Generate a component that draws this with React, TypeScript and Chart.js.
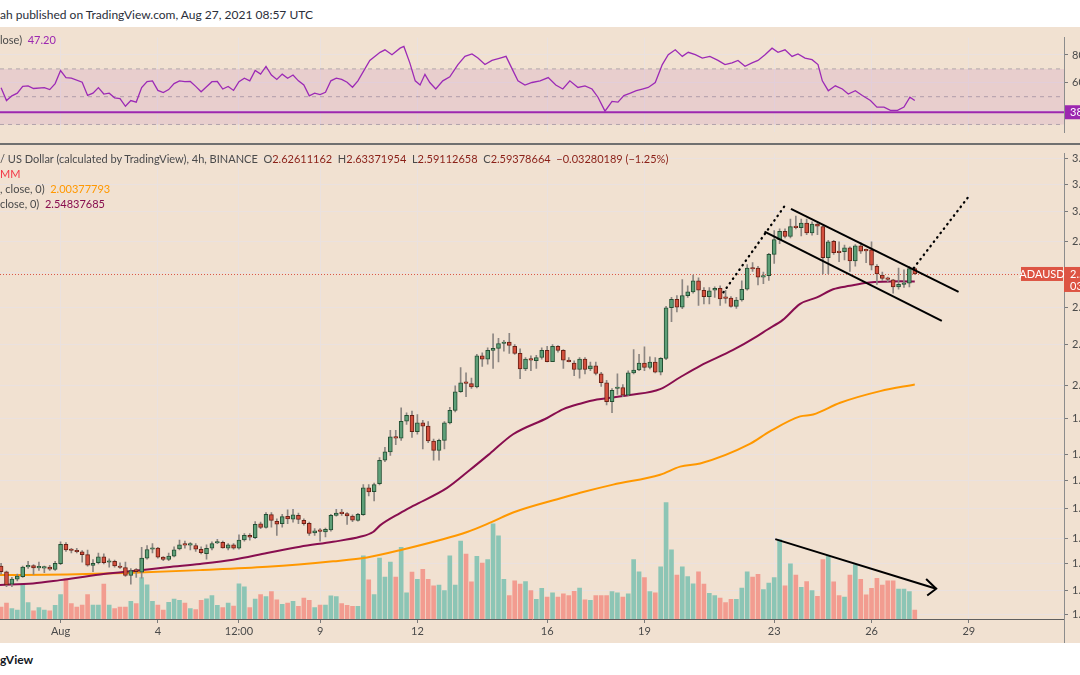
import React, { useEffect, useRef } from "react";
import { Chart, registerables } from "chart.js";
Chart.register(...registerables);

const FONT = "Lato, 'Noto Sans', sans-serif";
const BG = "#F1E1D1";
const GRID = "#EAE1DF";
const TEXT = "#4a4a4a";

// ---- time axis (index = 4h bars since Aug 1 00:00 UTC) ----
const FIRST_INDEX = -11;
const X_MIN = -11.2;
const X_MAX = 185.6;
const TIME_TICKS = [0, 18, 33, 48, 66, 90, 108, 132, 150, 168];
const TIME_LABELS = ["Aug", "4", "12:00", "9", "12", "16", "19", "23", "26", "29"];

// ---- price axis ----
const PRICE_MIN = 1.1589;
const PRICE_MAX = 3.4356;
const PRICE_TICKS = [3.4, 3.2, 3.0, 2.8, 2.6, 2.4, 2.2, 2.0, 1.85, 1.7, 1.6, 1.5, 1.4, 1.32, 1.24, 1.17];
const VOL_MAX = 47.6;

// ---- RSI axis ----
const RSI_MIN = 24.3;
const RSI_MAX = 92.5;
const RSI_TICKS = [80, 60, 40];
const RSI_LEVEL = 38.8;
const RSI_LAST = 47.2;

// ---- ADAUSD 4h candles ----
const opens = [
  1.311, 1.294, 1.257, 1.272, 1.279, 1.309, 1.313, 1.306, 1.305, 1.308,
  1.301, 1.319, 1.380, 1.362, 1.359, 1.356, 1.347, 1.313, 1.322, 1.340,
  1.323, 1.326, 1.311, 1.307, 1.283, 1.301, 1.293, 1.336, 1.364, 1.368,
  1.339, 1.332, 1.342, 1.365, 1.380, 1.377, 1.376, 1.364, 1.350, 1.367,
  1.384, 1.386, 1.367, 1.378, 1.367, 1.394, 1.409, 1.401, 1.447, 1.435,
  1.479, 1.456, 1.448, 1.473, 1.463, 1.476, 1.459, 1.449, 1.417, 1.424,
  1.420, 1.427, 1.476, 1.484, 1.482, 1.474, 1.459, 1.479, 1.574, 1.560,
  1.590, 1.679, 1.712, 1.773, 1.768, 1.839, 1.865, 1.795, 1.832, 1.818,
  1.756, 1.718, 1.759, 1.832, 1.886, 1.970, 2.012, 2.008, 1.992, 2.142,
  2.126, 2.170, 2.180, 2.205, 2.212, 2.191, 2.155, 2.078, 2.126, 2.118,
  2.134, 2.170, 2.114, 2.191, 2.170, 2.121, 2.107, 2.075, 2.126, 2.078,
  2.093, 2.054, 2.012, 1.925, 1.985, 1.989, 1.955, 2.059, 2.073, 2.107,
  2.085, 2.112, 2.062, 2.130, 2.397, 2.445, 2.401, 2.466, 2.488, 2.552,
  2.497, 2.460, 2.497, 2.509, 2.456, 2.452, 2.405, 2.441, 2.503, 2.630,
  2.630, 2.575, 2.584, 2.715, 2.810, 2.866, 2.831, 2.897, 2.890, 2.921,
  2.855, 2.915, 2.897, 2.695, 2.800, 2.732, 2.732, 2.757, 2.674, 2.770,
  2.745, 2.745, 2.641, 2.587, 2.567, 2.558, 2.517, 2.532, 2.538, 2.62611162,
];
const highs = [
  1.320, 1.296, 1.277, 1.287, 1.311, 1.326, 1.316, 1.324, 1.311, 1.314,
  1.326, 1.388, 1.385, 1.367, 1.367, 1.360, 1.361, 1.331, 1.352, 1.349,
  1.334, 1.330, 1.321, 1.324, 1.304, 1.304, 1.370, 1.376, 1.382, 1.370,
  1.341, 1.352, 1.372, 1.393, 1.390, 1.385, 1.382, 1.372, 1.378, 1.388,
  1.396, 1.390, 1.382, 1.382, 1.411, 1.415, 1.415, 1.455, 1.453, 1.486,
  1.486, 1.464, 1.480, 1.495, 1.497, 1.484, 1.464, 1.453, 1.431, 1.431,
  1.433, 1.480, 1.497, 1.497, 1.486, 1.478, 1.483, 1.586, 1.586, 1.592,
  1.689, 1.730, 1.800, 1.800, 1.897, 1.876, 1.883, 1.868, 1.843, 1.838,
  1.764, 1.764, 1.838, 1.900, 1.997, 2.085, 2.059, 2.034, 2.150, 2.158,
  2.183, 2.255, 2.232, 2.222, 2.258, 2.199, 2.178, 2.134, 2.142, 2.145,
  2.183, 2.191, 2.199, 2.194, 2.174, 2.134, 2.118, 2.134, 2.134, 2.112,
  2.112, 2.062, 2.023, 1.985, 2.054, 2.003, 2.069, 2.174, 2.150, 2.188,
  2.138, 2.134, 2.134, 2.405, 2.456, 2.466, 2.560, 2.523, 2.587, 2.571,
  2.513, 2.513, 2.517, 2.523, 2.497, 2.460, 2.456, 2.552, 2.652, 2.663,
  2.641, 2.605, 2.722, 2.870, 2.882, 2.882, 2.948, 2.970, 2.948, 2.948,
  2.930, 2.921, 2.904, 2.806, 2.806, 2.796, 2.775, 2.764, 2.778, 2.791,
  2.749, 2.796, 2.652, 2.605, 2.575, 2.561, 2.630, 2.619, 2.641, 2.63371954,
];
const lows = [
  1.287, 1.250, 1.250, 1.267, 1.277, 1.304, 1.286, 1.298, 1.291, 1.298,
  1.298, 1.316, 1.357, 1.352, 1.352, 1.323, 1.311, 1.294, 1.318, 1.318,
  1.308, 1.308, 1.304, 1.280, 1.257, 1.277, 1.275, 1.333, 1.352, 1.336,
  1.328, 1.328, 1.340, 1.362, 1.367, 1.362, 1.357, 1.349, 1.333, 1.362,
  1.382, 1.367, 1.362, 1.364, 1.364, 1.390, 1.393, 1.398, 1.431, 1.433,
  1.436, 1.409, 1.436, 1.448, 1.453, 1.448, 1.443, 1.409, 1.409, 1.390,
  1.404, 1.423, 1.473, 1.476, 1.445, 1.455, 1.456, 1.476, 1.545, 1.527,
  1.585, 1.673, 1.698, 1.741, 1.759, 1.825, 1.771, 1.784, 1.724, 1.749,
  1.679, 1.679, 1.724, 1.828, 1.880, 1.967, 1.948, 1.985, 1.988, 2.090,
  2.101, 2.080, 2.112, 2.166, 2.155, 2.150, 2.031, 2.069, 2.069, 2.080,
  2.126, 2.112, 2.113, 2.161, 2.080, 2.112, 2.046, 2.034, 2.054, 2.069,
  2.049, 1.995, 1.911, 1.876, 1.958, 1.948, 1.952, 2.054, 2.069, 2.069,
  2.078, 2.059, 2.049, 2.124, 2.320, 2.374, 2.392, 2.456, 2.480, 2.410,
  2.419, 2.419, 2.456, 2.410, 2.423, 2.401, 2.393, 2.434, 2.497, 2.609,
  2.528, 2.536, 2.555, 2.659, 2.784, 2.821, 2.821, 2.882, 2.834, 2.843,
  2.839, 2.843, 2.594, 2.594, 2.715, 2.670, 2.680, 2.609, 2.641, 2.722,
  2.663, 2.619, 2.532, 2.555, 2.548, 2.480, 2.503, 2.513, 2.517, 2.59112658,
];
const closes = [
  1.294, 1.255, 1.272, 1.281, 1.308, 1.312, 1.306, 1.308, 1.307, 1.302,
  1.320, 1.380, 1.362, 1.360, 1.356, 1.347, 1.314, 1.320, 1.340, 1.322,
  1.325, 1.312, 1.307, 1.283, 1.298, 1.294, 1.336, 1.363, 1.367, 1.339,
  1.332, 1.342, 1.362, 1.378, 1.377, 1.378, 1.364, 1.353, 1.367, 1.382,
  1.387, 1.368, 1.378, 1.367, 1.393, 1.409, 1.403, 1.446, 1.435, 1.480,
  1.459, 1.446, 1.472, 1.464, 1.478, 1.462, 1.448, 1.415, 1.424, 1.422,
  1.429, 1.476, 1.484, 1.482, 1.474, 1.460, 1.480, 1.574, 1.559, 1.586,
  1.679, 1.712, 1.773, 1.768, 1.839, 1.865, 1.795, 1.832, 1.818, 1.756,
  1.718, 1.759, 1.832, 1.886, 1.970, 2.012, 2.009, 1.992, 2.142, 2.126,
  2.170, 2.180, 2.205, 2.212, 2.195, 2.155, 2.078, 2.126, 2.121, 2.134,
  2.170, 2.114, 2.191, 2.170, 2.121, 2.113, 2.075, 2.126, 2.075, 2.093,
  2.056, 2.012, 1.925, 1.977, 1.989, 1.955, 2.059, 2.073, 2.107, 2.085,
  2.112, 2.062, 2.130, 2.397, 2.445, 2.401, 2.466, 2.488, 2.552, 2.497,
  2.460, 2.494, 2.509, 2.447, 2.450, 2.405, 2.441, 2.503, 2.630, 2.624,
  2.575, 2.584, 2.715, 2.810, 2.866, 2.831, 2.897, 2.890, 2.921, 2.855,
  2.915, 2.900, 2.695, 2.796, 2.726, 2.726, 2.757, 2.674, 2.770, 2.736,
  2.738, 2.647, 2.594, 2.567, 2.561, 2.517, 2.532, 2.541, 2.62658853, 2.59378664,
];
// volume (millions ADA, approx.)
const volumes = [
  1.23, 1.63, 1.07, 0.9, 3.57, 1.67, 0.83, 1.17, 0.9, 0.83, 1.4,
  2.5, 4.13, 1.57, 1.23, 1.43, 2.5, 1.43, 1.43, 3.57, 1.43,
  1.07, 1.23, 1.23, 1.8, 1.57, 4.23, 3.5, 1.8, 1.43, 0.9,
  1.7, 2.03, 1.9, 1.63, 1.07, 0.97, 1.9, 2.07, 2.4, 1.4,
  1.17, 1.63, 1.33, 3.6, 3.3, 1.17, 2.03, 2.5, 2.3, 2.8,
  1.97, 1.5, 1.63, 1.8, 1.3, 2.13, 1.9, 1.17, 1.43, 1.43,
  2.37, 2.3, 1.57, 1.4, 1.3, 1.3, 6.47, 4.0, 2.5,
  6.23, 4.3, 5.83, 4.3, 7.33, 2.67, 4.8, 4.07, 5.07, 4.07,
  3.4, 3.47, 2.9, 6.47, 3.47, 7.97, 6.63, 3.8, 6.4, 5.73,
  6.07, 9.73, 8.5, 4.07, 2.4, 3.9, 3.57, 3.83, 2.9, 2.0,
  3.13, 2.23, 2.67, 2.23, 2.57, 2.4, 2.83, 3.17, 1.97, 1.9,
  2.4, 2.4, 2.4, 2.8, 2.67, 2.23, 2.57, 6.07, 4.83, 4.23,
  2.8, 2.67, 5.33, 11.9, 7.07, 4.5, 5.33, 4.33, 3.6, 4.83,
  3.57, 2.63, 2.4, 2.13, 1.67, 2.0, 2.0, 3.17, 4.83, 4.3,
  4.57, 3.0, 3.67, 4.23, 8.13, 3.4, 5.63, 4.5, 3.23, 3.83,
  2.9, 2.33, 6.07, 6.4, 3.8, 2.4, 2.23, 4.5, 5.57, 4.07,
  2.47, 3.13, 4.17, 3.47, 3.9, 3.9, 3.07, 3.07, 2.8, 0.9,
];

// ---- moving averages ----
const ma50X = [-11.2, -5.1, -0.1, 7.3, 13.4, 19.7, 25.8, 31.9, 38.2, 44.3, 50.4, 55.4, 57.8, 59.1, 62.8, 65.2, 71.5, 75.7, 79.4, 83.7, 90, 93, 96.1, 99.2, 102.2, 105.3, 110.9, 114.6, 118.3, 124.4, 128.8, 130.7, 133.6, 136.8, 139.9, 142.9, 146.0, 149.2, 155.3, 158];
const ma50V = [1.255, 1.259, 1.269, 1.286, 1.296, 1.308, 1.318, 1.331, 1.352, 1.372, 1.388, 1.404, 1.420, 1.442, 1.484, 1.509, 1.574, 1.641, 1.705, 1.784, 1.853, 1.892, 1.916, 1.935, 1.944, 1.955, 1.982, 2.038, 2.093, 2.172, 2.242, 2.277, 2.330, 2.419, 2.456, 2.503, 2.523, 2.541, 2.550, 2.54837685];
const ma100X = [-11.2, 1.2, 13.4, 25.8, 38.2, 50.4, 56.7, 62.8, 75.2, 79.7, 83.7, 93.0, 96.1, 102.2, 110.9, 114.6, 118.3, 127.5, 131.2, 136.8, 139.2, 144.2, 151.6, 158];
const ma100V = [1.284, 1.286, 1.291, 1.299, 1.309, 1.326, 1.338, 1.361, 1.420, 1.453, 1.486, 1.539, 1.556, 1.586, 1.623, 1.654, 1.666, 1.744, 1.796, 1.860, 1.868, 1.920, 1.973, 2.00377793];

// ---- RSI(14) ----
const rsiX = [-11, -10, -9, -8, -7, -6, -5, -3, -2, -1, 0, 1, 2, 4, 5, 6, 7, 8, 9, 10, 11, 12, 13, 14, 15, 16, 17, 18, 19, 20, 21, 22, 23, 24, 25, 26, 27, 28, 29, 30, 31, 32, 33, 34, 35, 36, 37, 38, 39, 40, 41, 42, 43, 44, 45, 46, 47, 48, 49, 50, 51, 52, 53, 54, 55,
  57.2, 59.1, 60, 61.3, 62.8, 63.5, 64.6, 65.6, 66.5, 67.4, 68.3, 69.4, 70.7, 72, 73.5, 74.8, 76.1, 77.2, 78.5, 79.8, 81.3, 82.4, 83.5, 84.6, 85.9, 87.2, 88.7, 90.2, 91.6, 92.9, 94.2, 95.7, 97, 98.3, 99.4, 100.7, 102, 103.1, 104.2, 105.4, 106.5, 107.6, 108.7, 110, 111.3, 112.4, 113.7, 115, 116.1, 117.4, 118.7, 120.1, 121.6, 122.9, 124.2, 125.3, 126.6, 127.9, 129, 130.3, 131.6, 132.7, 134, 135.3, 136.4, 137.7, 139, 140.1, 140.9, 142, 143.3, 144.6, 145.7, 147, 148.3, 149.8, 151, 152.3, 153.5, 154.8, 156, 157.1, 158];
const rsiV = [56.5, 47.2, 50.6, 52.5, 57.4, 57.8, 55.9, 56.5, 55.1, 59.4, 68.8, 63.7, 63.3, 60.4, 50.9, 52.5, 56.5, 51.9, 52.5, 49.2, 48.6, 43.1, 47.2, 46.1, 56.5, 60.9, 61.4, 54.5, 52.9, 55.1, 59.4, 61.4, 60.8, 60.9, 57.4, 53.5, 57.1, 60.8, 60.9, 55.5, 57.4, 54.5, 60.8, 63.3, 61.4, 68.8, 66.2, 71.8, 65.6, 62.4, 66.2, 63.3, 65.6, 61.4, 58.4, 50.6, 52.5, 51.5, 53.1, 61.4, 63.3, 62.4, 60.4, 56.8, 61.4,
  76.1, 81.9, 83.7, 80.2, 84.9, 86.1, 74.3, 61.4, 58.4, 66.1, 60.2, 55.5, 61.4, 64.3, 73.1, 79, 80.8, 77.8, 73.1, 76.1, 77.8, 79, 70.2, 61.4, 58.4, 60.2, 61.4, 63.7, 58.4, 55.5, 61.4, 56.6, 57.8, 55.5, 49.6, 39.6, 46.6, 46.1, 50.8, 52.5, 54.3, 55.5, 56.6, 60.2, 73.1, 80.2, 83.7, 79, 81.9, 80.2, 77.8, 79, 76.1, 73.1, 74.3, 76.1, 71.9, 74.3, 76.1, 80.2, 84.9, 81.9, 83.7, 79, 80.8, 77.8, 76.6, 73.1, 61.4, 54.3, 57.8, 55.5, 51.9, 54.3, 50.8, 47.2, 42.5, 42.5, 40.2, 40.2, 42.5, 49.6, 47.2];

// ---- drawings (index, price) ----
const channelTopX = [135.1, 166.1];
const channelTopY = [3.02, 2.488];
const channelBottomX = [130.2, 163.0];
const channelBottomY = [2.864, 2.325];
const dottedLeftX = [122.6, 134.0];
const dottedLeftY = [2.485, 3.044];
const dottedRightX = [157.8, 167.9];
const dottedRightY = [2.63, 3.105];
const volTrendX = [132.2, 161.96];
const volTrendY = [8.17, 3.1];
const volArrowX = [160.1, 161.96, 160.3];
const volArrowY = [4.1, 3.1, 2.4];

const SYMBOL = "ADAUSD";
const COUNTDOWN = "03:02:12";

const UP_FILL = "#5E9F78";
const UP_EDGE = "#244F33";
const DN_FILL = "#D4503E";
const DN_EDGE = "#6A2116";
const WICK = "#8C8682";
const VOL_UP = "#8CC5B5";
const VOL_DN = "#F29C90";
const MA50_C = "#880E4F";
const MA100_C = "#FF9800";
const RSI_C = "#9C2AB5";

const LAST = opens.length - 1;

function xAxis(showLabels: boolean) {
  return {
    type: "linear",
    min: X_MIN,
    max: X_MAX,
    offset: false,
    display: true,
    afterBuildTicks: (s: any) => {
      s.ticks = TIME_TICKS.map((v) => ({ value: v }));
    },
    afterFit: (s: any) => {
      s.height = showLabels ? 24 : 0;
    },
    ticks: {
      display: showLabels,
      autoSkip: false,
      maxRotation: 0,
      padding: 2,
      color: TEXT,
      font: { family: FONT, size: 11 },
      callback: (_v: any, i: number) => TIME_LABELS[i] ?? "",
    },
    grid: {
      offset: false,
      color: GRID,
      drawTicks: showLabels,
      tickLength: 4,
      tickColor: "#7a7a7a",
    },
    border: { display: showLabels, color: "#5f5f5f", width: 1 },
  };
}

function line(xs: number[], ys: number[], color: string, width: number, axis: string, order: number, extra: any = {}) {
  return {
    type: "line",
    data: xs.map((x, k) => ({ x, y: ys[k] })),
    borderColor: color,
    borderWidth: width,
    pointRadius: 0,
    fill: false,
    yAxisID: axis,
    order,
    ...extra,
  };
}

export default function App() {
  const rsiRef = useRef<HTMLCanvasElement>(null);
  const priceRef = useRef<HTMLCanvasElement>(null);

  useEffect(() => {
    document.body.style.margin = "0";
    Chart.defaults.font.family = FONT;
    const idx = opens.map((_, k) => FIRST_INDEX + k);
    const rising = opens.map((o, k) => closes[k] >= o);

    const pricePlugin = {
      id: "priceDecor",
      beforeDatasetsDraw(chart: any) {
        const { ctx, chartArea: ca, scales } = chart;
        const yp = Math.round(scales.y.getPixelForValue(closes[LAST])) + 0.5;
        ctx.save();
        ctx.strokeStyle = "#D9574A";
        ctx.lineWidth = 1;
        ctx.setLineDash([1, 2]);
        ctx.beginPath();
        ctx.moveTo(ca.left, yp);
        ctx.lineTo(ca.right, yp);
        ctx.stroke();
        ctx.restore();
      },
      afterDraw(chart: any) {
        const { ctx, chartArea: ca, scales, width, height } = chart;
        ctx.save();
        ctx.fillStyle = "#707070";
        ctx.fillRect(0, 0, width, 2);
        ctx.fillStyle = "#8c8c8c";
        ctx.fillRect(ca.right, ca.bottom, 1, height - ca.bottom);
        const yp = scales.y.getPixelForValue(closes[LAST]);
        ctx.fillStyle = "#DD5443";
        ctx.fillRect(ca.right - 43, yp - 7, 42, 14);
        ctx.fillRect(ca.right, yp - 7, width - ca.right, 25);
        ctx.fillStyle = "#ffffff";
        ctx.font = `11px ${FONT}`;
        ctx.textBaseline = "middle";
        ctx.textAlign = "center";
        ctx.fillText(SYMBOL, ca.right - 22, yp);
        ctx.textAlign = "left";
        ctx.fillText(closes[LAST].toFixed(8), ca.right + 6, yp);
        ctx.fillText(COUNTDOWN, ca.right + 6, yp + 12);
        ctx.restore();
      },
    };

    const price = new Chart(priceRef.current as HTMLCanvasElement, {
      type: "bar",
      data: {
        datasets: [
          line(channelTopX, channelTopY, "#000", 2, "y", 0),
          line(channelBottomX, channelBottomY, "#000", 2, "y", 0),
          line(dottedLeftX, dottedLeftY, "#000", 2.3, "y", 0, { borderDash: [0.5, 5], borderCapStyle: "round" }),
          line(dottedRightX, dottedRightY, "#000", 2.3, "y", 0, { borderDash: [0.5, 5], borderCapStyle: "round" }),
          line(volTrendX, volTrendY, "#000", 2, "yv", 0),
          line(volArrowX, volArrowY, "#000", 2, "yv", 0),
          {
            type: "bar",
            label: "body",
            yAxisID: "y",
            order: 1,
            grouped: false,
            data: idx.map((x, k) => ({ x, y: [opens[k], closes[k]] })),
            backgroundColor: rising.map((u) => (u ? UP_FILL : DN_FILL)),
            borderColor: rising.map((u) => (u ? UP_EDGE : DN_EDGE)),
            borderWidth: 1,
            borderSkipped: false,
            barThickness: 4,
            minBarLength: 1.5,
          },
          {
            type: "bar",
            label: "wick",
            yAxisID: "y",
            order: 2,
            grouped: false,
            data: idx.map((x, k) => ({ x, y: [lows[k], highs[k]] })),
            backgroundColor: WICK,
            borderWidth: 0,
            barThickness: 1,
          },
          line(ma50X, ma50V, MA50_C, 2, "y", 3, { cubicInterpolationMode: "monotone" }),
          line(ma100X, ma100V, MA100_C, 2, "y", 3, { cubicInterpolationMode: "monotone" }),
          {
            type: "bar",
            label: "volume",
            yAxisID: "yv",
            order: 6,
            grouped: false,
            data: idx.map((x, k) => ({ x, y: volumes[k] })),
            backgroundColor: rising.map((u) => (u ? VOL_UP : VOL_DN)),
            borderWidth: 0,
            barThickness: 4,
          },
        ] as any,
      },
      options: {
        responsive: false,
        animation: false,
        events: [],
        layout: { padding: 0 },
        plugins: { legend: { display: false }, tooltip: { enabled: false } },
        scales: {
          x: xAxis(true) as any,
          y: {
            type: "logarithmic",
            position: "right",
            min: PRICE_MIN,
            max: PRICE_MAX,
            afterBuildTicks: (s: any) => {
              s.ticks = PRICE_TICKS.map((v) => ({ value: v }));
            },
            afterFit: (s: any) => {
              s.width = 16;
            },
            ticks: {
              padding: 4,
              color: TEXT,
              font: { family: FONT, size: 11 },
              callback: (v: any) => Number(v).toFixed(8),
            },
            grid: { color: GRID, tickLength: 4, tickColor: "#7a7a7a" },
            border: { display: true, color: "#8c8c8c", width: 1 },
          } as any,
          yv: {
            type: "linear",
            display: false,
            min: 0,
            max: VOL_MAX,
          },
        },
      },
      plugins: [pricePlugin],
    });

    const rsiPlugin = {
      id: "rsiDecor",
      afterDraw(chart: any) {
        const { ctx, chartArea: ca, scales, width } = chart;
        const y = scales.y.getPixelForValue(RSI_LEVEL);
        ctx.save();
        ctx.fillStyle = "#9C27B0";
        ctx.fillRect(ca.right + 1, y - 7, width - ca.right - 1, 14);
        ctx.fillStyle = "#fff";
        ctx.font = `11px ${FONT}`;
        ctx.textBaseline = "middle";
        ctx.fillText(RSI_LEVEL.toFixed(2), ca.right + 6, y);
        ctx.restore();
      },
    };

    const band = (v: number, extra: any = {}) =>
      line([X_MIN, X_MAX], [v, v], "rgba(130,126,140,0.55)", 1, "y", 5, { borderDash: [4, 4], ...extra });

    const rsi = new Chart(rsiRef.current as HTMLCanvasElement, {
      type: "line",
      data: {
        datasets: [
          line(rsiX, rsiV, RSI_C, 1.3, "y", 0),
          line([X_MIN, X_MAX], [RSI_LEVEL, RSI_LEVEL], "#9C27B0", 2, "y", 1),
          band(70, { fill: "+1", backgroundColor: "rgba(156,39,176,0.10)" }),
          band(30),
          band(50),
        ] as any,
      },
      options: {
        responsive: false,
        animation: false,
        events: [],
        layout: { padding: 0 },
        plugins: { legend: { display: false }, tooltip: { enabled: false } },
        scales: {
          x: xAxis(false) as any,
          y: {
            type: "linear",
            position: "right",
            min: RSI_MIN,
            max: RSI_MAX,
            afterBuildTicks: (s: any) => {
              s.ticks = RSI_TICKS.map((v) => ({ value: v }));
            },
            afterFit: (s: any) => {
              s.width = 16;
            },
            ticks: { padding: 4, color: TEXT, font: { family: FONT, size: 11 } },
            grid: { color: GRID, tickLength: 4, tickColor: "#7a7a7a" },
            border: { display: true, color: "#8c8c8c", width: 1 },
          } as any,
        },
      },
      plugins: [rsiPlugin],
    });

    return () => {
      price.destroy();
      rsi.destroy();
    };
  }, []);

  const chg = closes[LAST] - closes[LAST - 1];
  const VAL = "#8A1F16";
  const lbl: React.CSSProperties = { position: "absolute", left: 0, whiteSpace: "pre", font: `11px ${FONT}`, color: TEXT, lineHeight: "15px" };

  return (
    <div style={{ position: "relative", width: 1080, height: 675, background: "#fff", overflow: "hidden", fontFamily: FONT }}>
      <div style={{ position: "absolute", left: 0, top: 7, whiteSpace: "pre", font: `12px ${FONT}`, color: "#2a2e39", lineHeight: "15px" }}>
        ah published on TradingView.com, Aug 27, 2021 08:57 UTC
      </div>
      <div style={{ position: "absolute", left: 0, top: 27, width: 1080, height: 616, background: BG }} />
      <canvas ref={rsiRef} width={1080} height={116} style={{ position: "absolute", left: 0, top: 27 }} />
      <canvas ref={priceRef} width={1080} height={500} style={{ position: "absolute", left: 0, top: 143 }} />
      <div style={{ ...lbl, top: 32 }}>
        lose)  <span style={{ color: "#9C27B0" }}>{RSI_LAST.toFixed(2)}</span>
      </div>
      <div style={{ ...lbl, top: 151 }}>
        {"/ US Dollar (calculated by TradingView), 4h, BINANCE  "}
        O<span style={{ color: VAL }}>{opens[LAST].toFixed(8)}</span>{"  "}
        H<span style={{ color: VAL }}>{highs[LAST].toFixed(8)}</span>{"  "}
        L<span style={{ color: VAL }}>{lows[LAST].toFixed(8)}</span>{"  "}
        C<span style={{ color: VAL }}>{closes[LAST].toFixed(8)}</span>{"  "}
        <span style={{ color: VAL }}>{`\u2212${Math.abs(chg).toFixed(8)} (\u2212${((Math.abs(chg) / closes[LAST - 1]) * 100).toFixed(2)}%)`}</span>
      </div>
      <div style={{ ...lbl, top: 166, color: "#F23645" }}>MM</div>
      <div style={{ ...lbl, top: 181 }}>
        , close, 0)  <span style={{ color: MA100_C }}>{ma100V[ma100V.length - 1].toFixed(8)}</span>
      </div>
      <div style={{ ...lbl, top: 196 }}>
        close, 0)  <span style={{ color: MA50_C }}>{ma50V[ma50V.length - 1].toFixed(8)}</span>
      </div>
      <div style={{ position: "absolute", left: 0, top: 652, whiteSpace: "pre", font: `bold 12px ${FONT}`, color: "#131722", lineHeight: "15px" }}>
        gView
      </div>
    </div>
  );
}
